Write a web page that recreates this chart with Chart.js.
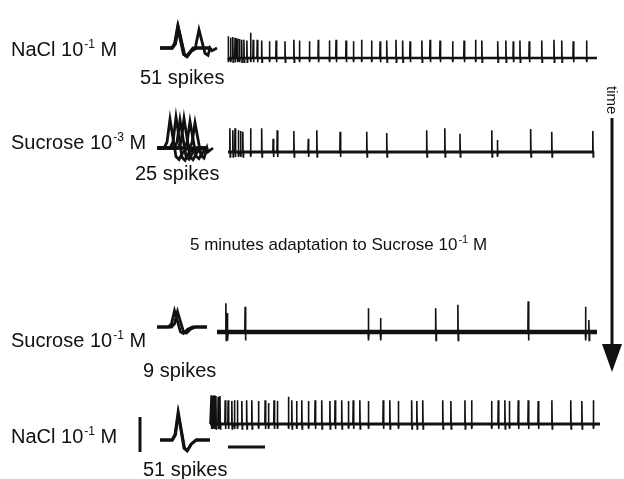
<!DOCTYPE html>
<html>
<head>
<meta charset="utf-8">
<script src="https://cdn.jsdelivr.net/npm/chart.js@4.4.1/dist/chart.umd.min.js"></script>
<style>
  html, body { margin: 0; padding: 0; background: #fff; }
  canvas { display: block; }
</style>
</head>
<body>
<canvas id="chart" width="624" height="479"></canvas>
<script>
// spike times (s from trace start) and peak amplitudes (mV)
const naclATimes = [0.01,0.07,0.13,0.19,0.25,0.31,0.37,0.43,0.51,0.61,0.68,0.79,0.91,1.12,1.30,1.54,1.78,1.93,2.20,2.44,2.74,2.92,3.19,3.39,3.61,3.88,4.11,4.29,4.54,4.72,4.92,5.24,5.46,5.73,6.07,6.38,6.69,6.86,7.29,7.51,7.71,7.89,8.14,8.48,8.81,9.02,9.33,9.69];
const naclAAmps  = [0.31,0.29,0.30,0.29,0.28,0.27,0.26,0.26,0.25,0.36,0.26,0.26,0.25,0.24,0.25,0.24,0.26,0.25,0.24,0.26,0.25,0.26,0.25,0.24,0.26,0.25,0.24,0.25,0.26,0.25,0.24,0.25,0.26,0.25,0.24,0.25,0.26,0.25,0.24,0.25,0.24,0.25,0.24,0.25,0.26,0.25,0.24,0.25];

const sucLowTimes = [0.05,0.13,0.19,0.28,0.34,0.40,0.61,0.91,1.22,1.33,1.78,2.17,2.40,3.03,3.75,4.29,5.37,5.86,6.27,7.13,7.28,8.18,8.75,9.86];
const sucLowAmps  = [0.34,0.31,0.34,0.31,0.30,0.29,0.34,0.34,0.19,0.31,0.30,0.19,0.31,0.29,0.29,0.27,0.31,0.34,0.26,0.31,0.17,0.33,0.29,0.30];

const sucHighTimes = [0.24,0.28,0.76,4.09,4.42,5.91,6.51,8.41,9.96,10.05];
const sucHighAmps  = [0.41,0.27,0.36,0.34,0.20,0.34,0.39,0.44,0.36,0.17];

const naclBTimes = [0.03,0.07,0.11,0.16,0.22,0.27,0.41,0.49,0.59,0.66,0.74,0.86,0.99,1.13,1.31,1.49,1.58,1.73,1.82,2.12,2.21,2.34,2.48,2.66,2.84,3.02,3.24,3.38,3.56,3.74,3.87,4.05,4.28,4.68,4.86,5.09,5.45,5.59,5.75,6.29,6.51,6.89,7.07,7.61,7.79,7.97,8.09,8.33,8.60,8.87,9.24,9.75,10.05,10.36];
const naclBAmps  = [0.41,0.40,0.41,0.40,0.39,0.40,0.34,0.34,0.33,0.34,0.34,0.33,0.34,0.34,0.33,0.34,0.30,0.34,0.33,0.39,0.34,0.33,0.34,0.33,0.34,0.34,0.33,0.34,0.34,0.33,0.34,0.34,0.33,0.34,0.34,0.33,0.34,0.33,0.34,0.34,0.33,0.34,0.34,0.33,0.34,0.34,0.33,0.34,0.34,0.33,0.34,0.34,0.33,0.34];

const traceDur = [9.97, 9.86, 10.27, 10.54];

// overlaid sweeps in the insets: [peak time ms, amplitude mV]
const naclASweeps = [[[1.8,0.31]], [[1.75,0.30],[3.9,0.26]], [[1.85,0.29]]];
const sucLowSweeps = [[[1.3,0.41]], [[1.9,0.44]], [[2.3,0.40]], [[2.7,0.42]], [[3.3,0.38]], [[3.8,0.36]]];
const sucHighSweeps = [[[1.75,0.23]], [[2.05,0.22]]];
const naclBSweeps = [[[1.8,0.39]], [[1.85,0.38]]];

// inset spike shape (ms offset, fraction of amplitude)
const shapeT = [-0.6,-0.3,0,0.3,0.6,0.9,1.3,1.8];
const shapeF = [0,0.2,1,0.35,-0.3,-0.4,-0.15,0];

const rowLabels = [["NaCl 10", "-1", " M"], ["Sucrose 10", "-3", " M"], ["Sucrose 10", "-1", " M"], ["NaCl 10", "-1", " M"]];
const spikeLabels = ["51 spikes", "25 spikes", "9 spikes", "51 spikes"];

const W = 624, H = 479;
const PX_S = 37, PX_MS = 10, PX_MV = 70;
const INK = "#111";

const rows = [
  { times: naclATimes,   amps: naclAAmps,   sweeps: naclASweeps,   x0: 228, base: 58,  inX: 160, inBase: 48,  band: 2.5, under: 0.06, lab: [11, 56],  spk: [140, 84] },
  { times: sucLowTimes,  amps: sucLowAmps,  sweeps: sucLowSweeps,  x0: 228, base: 152, inX: 157, inBase: 148, band: 3,   under: 0.07, lab: [11, 149], spk: [135, 180] },
  { times: sucHighTimes, amps: sucHighAmps, sweeps: sucHighSweeps, x0: 217, base: 332, inX: 157, inBase: 327, band: 4.5, under: 0.12, lab: [11, 347], spk: [143, 377] },
  { times: naclBTimes,   amps: naclBAmps,   sweeps: naclBSweeps,   x0: 210, base: 424, inX: 160, inBase: 440, band: 3,   under: 0.07, lab: [11, 443], spk: [143, 476] }
];

const mv = (px) => -px / PX_MV;

function traceData(r, dur){
  const t0 = r.x0 / PX_S, b = mv(r.base);
  const pts = [{ x: t0, y: b }];
  r.times.forEach((t, i) => {
    pts.push({ x: t0 + t - 0.008, y: b });
    pts.push({ x: t0 + t, y: b + r.amps[i] });
    pts.push({ x: t0 + t + 0.01, y: b - r.under });
    pts.push({ x: t0 + t + 0.02, y: b });
  });
  pts.push({ x: t0 + dur, y: b });
  return pts;
}

function sweepData(r, sweep){
  const m0 = r.inX / PX_MS, b = mv(r.inBase);
  const pts = [{ x: m0, y: b }];
  sweep.forEach(([pk, a]) => {
    shapeT.forEach((dt, k) => pts.push({ x: m0 + pk + dt, y: b + a * shapeF[k] }));
  });
  pts.push({ x: m0 + 5, y: b });
  return pts.sort((p, q) => p.x - q.x);
}

const datasets = [];
rows.forEach((r, i) => {
  const t0 = r.x0 / PX_S, b = mv(r.base);
  datasets.push({ data: [{ x: t0, y: b }, { x: t0 + traceDur[i], y: b }], borderWidth: r.band, xAxisID: "x" });
  datasets.push({ data: traceData(r, traceDur[i]), borderWidth: 1.6, xAxisID: "x" });
  r.sweeps.forEach(s => datasets.push({ data: sweepData(r, s), borderWidth: 2.8, xAxisID: "xw" }));
});

// scale bars: 0.5 mV vertical, 1 s horizontal
datasets.push({ data: [{ x: 140 / PX_S, y: mv(417) }, { x: 140 / PX_S, y: mv(417) - 0.5 }], borderWidth: 3, xAxisID: "x" });
datasets.push({ data: [{ x: 228 / PX_S, y: mv(447) }, { x: 228 / PX_S + 1, y: mv(447) }], borderWidth: 3, xAxisID: "x" });

datasets.forEach(d => Object.assign(d, { showLine: true, pointRadius: 0, borderColor: INK, tension: 0, fill: false, borderCapStyle: "butt" }));

const FONT = "Liberation Sans, Arial, Helvetica, sans-serif";

function drawSup(ctx, parts, x, y, size){
  ctx.font = `${size}px ${FONT}`;
  ctx.fillText(parts[0], x, y);
  x += ctx.measureText(parts[0]).width;
  ctx.font = `${Math.round(size * 0.62)}px ${FONT}`;
  ctx.fillText(parts[1], x + 1, y - size * 0.42);
  x += ctx.measureText(parts[1]).width + 1;
  ctx.font = `${size}px ${FONT}`;
  ctx.fillText(parts[2], x, y);
}

const textPlugin = {
  id: "texts",
  afterDraw(chart){
    const ctx = chart.ctx;
    ctx.save();
    ctx.fillStyle = INK;
    ctx.textBaseline = "alphabetic";
    ctx.textAlign = "left";
    rows.forEach((r, i) => {
      drawSup(ctx, rowLabels[i], r.lab[0], r.lab[1], 20);
      ctx.font = `20px ${FONT}`;
      ctx.fillText(spikeLabels[i], r.spk[0], r.spk[1]);
    });
    drawSup(ctx, ["5 minutes adaptation to Sucrose 10", "-1", " M"], 190, 250, 17);

    // time arrow
    ctx.strokeStyle = INK;
    ctx.lineWidth = 3;
    ctx.beginPath();
    ctx.moveTo(612, 118);
    ctx.lineTo(612, 347);
    ctx.stroke();
    ctx.beginPath();
    ctx.moveTo(602, 344);
    ctx.lineTo(622, 344);
    ctx.lineTo(612, 372);
    ctx.closePath();
    ctx.fill();
    ctx.translate(607, 86);
    ctx.rotate(Math.PI / 2);
    ctx.font = `15px ${FONT}`;
    ctx.fillText("time", 0, 0);
    ctx.restore();
  }
};

new Chart(document.getElementById("chart"), {
  type: "scatter",
  data: { datasets },
  options: {
    responsive: false,
    animation: false,
    devicePixelRatio: 1,
    layout: { padding: 0 },
    plugins: { legend: { display: false }, tooltip: { enabled: false } },
    scales: {
      x: { type: "linear", min: 0, max: W / PX_S, display: false },
      xw: { type: "linear", min: 0, max: W / PX_MS, display: false },
      y: { type: "linear", min: -H / PX_MV, max: 0, display: false }
    }
  },
  plugins: [textPlugin]
});
</script>
</body>
</html>
